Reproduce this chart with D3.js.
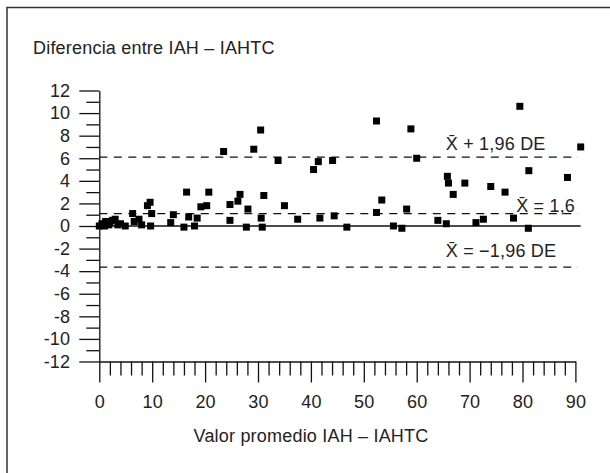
<!DOCTYPE html>
<html lang="es">
<head>
    <meta charset="UTF-8">
    <title>Diferencia entre IAH - IAHTC</title>
    <script src="https://cdn.jsdelivr.net/npm/d3@7"></script>
    <style>
        html, body { margin: 0; padding: 0; background: #fff; }
        svg text { font-family: "Liberation Sans", Arial, sans-serif; fill: #222; letter-spacing: 0.2px; }
    </style>
</head>
<body>
    <div id="chart"></div>

    <script>
        // Valor promedio IAH - IAHTC (x) and diferencia (y)
        const promedio = [
            0.0, 0.5, 1.2, 2.0, 2.5, 3.0, 3.5, 4.9, 6.3, 6.6, 7.5, 8.0,
            9.1, 9.6, 9.9, 9.7, 13.5, 14.0, 16.5, 16.9, 16.0, 18.5, 18.0, 19.2,
            20.3, 20.7, 23.5, 24.7, 24.7, 26.2, 26.6, 28.1, 27.8, 29.2, 30.5, 30.6,
            30.8, 31.1, 33.8, 35.0, 37.5, 40.5, 41.4, 41.7, 44.1, 44.4, 46.8, 52.4,
            52.4, 53.4, 55.6, 57.2, 58.1, 58.9, 60.0, 64.0, 65.6, 65.8, 66.0, 66.9,
            69.1, 71.2, 72.6, 74.0, 76.7, 78.3, 79.5, 81.2, 81.1, 88.5, 91.0,
            1.0, 1.8, 4.0
        ];
        const diferencia = [
            0.0, 0.2, 0.4, 0.3, 0.5, 0.6, 0.1, 0.0, 1.1, 0.4, 0.6, 0.1,
            1.8, 2.1, 1.1, 0.0, 0.3, 1.0, 3.0, 0.8, -0.1, 0.7, 0.0, 1.7,
            1.8, 3.0, 6.6, 1.9, 0.5, 2.2, 2.8, 1.5, -0.1, 6.8, 8.5, 0.7,
            -0.1, 2.7, 5.8, 1.8, 0.6, 5.0, 5.7, 0.7, 5.8, 0.9, -0.1, 9.3,
            1.2, 2.3, 0.0, -0.2, 1.5, 8.6, 6.0, 0.5, 0.2, 4.4, 3.8, 2.8,
            3.8, 0.3, 0.6, 3.5, 3.0, 0.7, 10.6, 4.9, -0.2, 4.3, 7.0,
            0.0, 0.1, 0.2
        ];

        // horizontal reference lines (mean and limits of agreement)
        const refValues = [6.1, 1.1, -3.65];
        const refLabels = ["X\u0304 + 1,96 DE", "X\u0304 = 1,6", "X\u0304 = \u22121,96 DE"];

        const yMajorTicks = d3.range(-12, 13, 2);
        const yMinorTicks = d3.range(-11, 12, 2);
        const xMajorTicks = d3.range(0, 91, 10);
        const xMinorTicks = d3.range(0, 91, 2).filter(d => d % 10 !== 0);

        const width = 610, height = 473;
        const fontSize = '18px';

        const svg = d3.select('#chart')
            .append('svg')
            .attr('width', width)
            .attr('height', height);

        // frame (top and left edges of the figure box)
        svg.append('path')
            .attr('d', `M7,${height} V7.5 H${width}`)
            .attr('fill', 'none')
            .attr('stroke', '#333')
            .attr('stroke-width', 1.5);

        const x = d3.scaleLinear().domain([0, 90]).range([99.3, 575.4]);
        const y = d3.scaleLinear().domain([-12, 12]).range([361.5, 90.5]);

        // y axis
        svg.append('g')
            .attr('transform', `translate(${x(0)},0)`)
            .call(d3.axisLeft(y).tickValues(yMajorTicks).tickSize(20).tickSizeOuter(0).tickPadding(9)
                .tickFormat(d => String(d)))
            .call(g => g.selectAll('text').attr('font-size', fontSize).style('font-family', null))
            .call(g => g.selectAll('line, path').attr('stroke', '#111').attr('stroke-width', 1.3));

        svg.append('g')
            .attr('transform', `translate(${x(0)},0)`)
            .call(d3.axisLeft(y).tickValues(yMinorTicks).tickSize(13).tickSizeOuter(0).tickFormat(''))
            .call(g => g.select('.domain').remove())
            .call(g => g.selectAll('line').attr('stroke', '#111').attr('stroke-width', 1.3));

        // x axis
        svg.append('g')
            .attr('transform', `translate(0,${y(-12)})`)
            .call(d3.axisBottom(x).tickValues(xMajorTicks).tickSize(21).tickSizeOuter(0).tickPadding(13))
            .call(g => g.selectAll('text').attr('font-size', fontSize).style('font-family', null))
            .call(g => g.selectAll('line, path').attr('stroke', '#111').attr('stroke-width', 1.3));

        svg.append('g')
            .attr('transform', `translate(0,${y(-12)})`)
            .call(d3.axisBottom(x).tickValues(xMinorTicks).tickSize(14).tickSizeOuter(0).tickFormat(''))
            .call(g => g.select('.domain').remove())
            .call(g => g.selectAll('line').attr('stroke', '#111').attr('stroke-width', 1.3));

        // zero line
        svg.append('line')
            .attr('x1', x(0)).attr('x2', x(91))
            .attr('y1', y(0)).attr('y2', y(0))
            .attr('stroke', '#111')
            .attr('stroke-width', 1.3);

        // dashed reference lines
        svg.selectAll('.ref')
            .data(refValues)
            .enter().append('line')
            .attr('class', 'ref')
            .attr('x1', x(0)).attr('x2', x(90.5))
            .attr('y1', d => y(d)).attr('y2', d => y(d))
            .attr('stroke', '#111')
            .attr('stroke-width', 1.3)
            .attr('stroke-dasharray', '8,6.5');

        // labels for the reference lines
        const labelX = [65.5, 78.8, 65.5];
        const labelDy = [-7, -2, -10];
        svg.selectAll('.ref-label')
            .data(refValues)
            .enter().append('text')
            .attr('class', 'ref-label')
            .attr('x', (d, i) => x(labelX[i]))
            .attr('y', (d, i) => y(d) + labelDy[i])
            .attr('font-size', fontSize)
            .text((d, i) => refLabels[i]);

        // data points
        const size = 7;
        svg.selectAll('.pt')
            .data(promedio.map((p, i) => [p, diferencia[i]]))
            .enter().append('rect')
            .attr('class', 'pt')
            .attr('x', d => x(d[0]) - size / 2)
            .attr('y', d => y(d[1]) - size / 2)
            .attr('width', size)
            .attr('height', size)
            .attr('fill', '#000');

        // titles
        svg.append('text')
            .attr('x', 33)
            .attr('y', 54)
            .attr('font-size', fontSize)
            .text('Diferencia entre IAH \u2013 IAHTC');

        svg.append('text')
            .attr('x', 311)
            .attr('y', 442)
            .attr('text-anchor', 'middle')
            .attr('font-size', fontSize)
            .text('Valor promedio IAH \u2013 IAHTC');
    </script>
</body>
</html>
